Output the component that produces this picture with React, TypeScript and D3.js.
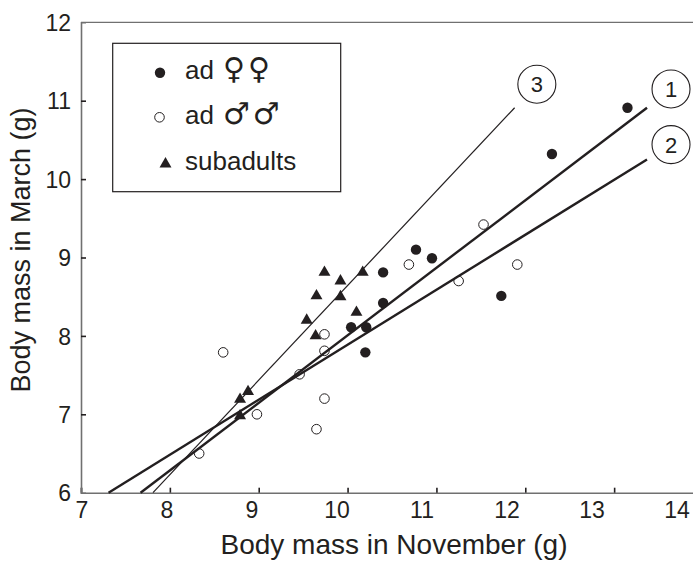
import { useEffect, useRef } from 'react';
import * as d3 from 'd3';

// adult females (filled circles)
const femaleNov = [13.15, 12.3, 10.77, 10.95, 11.73, 10.4, 10.4, 10.04, 10.21, 10.2];
const femaleMar = [10.91, 10.32, 9.1, 8.99, 8.51, 8.81, 8.42, 8.11, 8.11, 7.79];

// adult males (open circles)
const maleNov = [10.69, 11.53, 11.91, 11.25, 8.6, 9.74, 9.74, 9.46, 9.74, 8.98, 9.65, 8.33];
const maleMar = [8.91, 9.42, 8.91, 8.7, 7.79, 8.02, 7.81, 7.51, 7.2, 7.0, 6.81, 6.5];

// subadults (triangles)
const subNov = [9.74, 9.92, 10.17, 9.65, 9.92, 10.1, 9.54, 9.64, 8.88, 8.79, 8.79];
const subMar = [8.81, 8.7, 8.81, 8.51, 8.5, 8.3, 8.2, 8.0, 7.29, 7.19, 6.98];

// regression lines 1..3, ends in data units, plus circled label anchor
const lineIds = ['1', '2', '3'];
const lineX0 = [7.67, 7.31, 7.81];
const lineY0 = [6, 6, 6];
const lineX1 = [13.37, 13.37, 11.88];
const lineY1 = [10.91, 10.25, 10.91];
const labelX = [13.64, 13.64, 12.13];
const labelY = [11.15, 10.44, 11.21];

const xTicks = [7, 8, 9, 10, 11, 12, 13, 14];
const yTicks = [6, 7, 8, 9, 10, 11, 12];

const W = 693;
const H = 561;
const INK = '#231f20';
const AXIS = '#707070';
const FONT = '"Liberation Sans", Arial, Helvetica, sans-serif';

export default function App() {
  const svgRef = useRef<SVGSVGElement | null>(null);

  useEffect(() => {
    if (!svgRef.current) return;
    const svg = d3.select(svgRef.current);
    svg.selectAll('*').remove();

    const x = d3.scaleLinear().domain([7, 14]).range([81, 703]);
    const y = d3.scaleLinear().domain([6, 12]).range([492.7, 22.3]);
    // printed tick labels sit a little left of their ticks in the original
    const xLab = d3.scaleLinear().domain([7, 14]).range([82, 677]);

    // frame: top line
    svg
      .append('line')
      .attr('x1', x(7))
      .attr('x2', x(14))
      .attr('y1', y(12))
      .attr('y2', y(12))
      .attr('stroke', AXIS)
      .attr('stroke-width', 1.3);

    // x axis
    const gx = svg
      .append('g')
      .attr('transform', `translate(0,${y(6)})`)
      .call(d3.axisBottom(x).tickValues(xTicks).tickSize(-5).tickFormat(() => ''));
    gx.select('.domain').attr('stroke', AXIS).attr('stroke-width', 1.6);
    gx.selectAll('.tick line').attr('stroke', INK).attr('stroke-width', 1.6);

    svg
      .append('g')
      .selectAll('text')
      .data(xTicks)
      .join('text')
      .attr('x', (d) => xLab(d))
      .attr('y', 518)
      .attr('text-anchor', 'middle')
      .attr('font-family', FONT)
      .attr('font-size', 23)
      .attr('fill', INK)
      .text((d) => d);

    // y axis
    const gy = svg
      .append('g')
      .attr('transform', `translate(${x(7)},0)`)
      .call(
        d3
          .axisLeft(y)
          .tickValues(yTicks)
          .tickSize(-5)
          .tickPadding(10)
          .tickFormat((d) => String(d))
      );
    gy.select('.domain').attr('stroke', AXIS).attr('stroke-width', 1.6);
    gy.selectAll('.tick line').attr('stroke', INK).attr('stroke-width', 1.6);
    gy.selectAll('.tick text')
      .attr('font-family', FONT)
      .attr('font-size', 23)
      .attr('fill', INK)
      .attr('dy', '0.36em');
    gy.selectAll('.tick')
      .filter((d: any) => d === 6 || d === 12)
      .select('line')
      .remove();

    // axis titles
    svg
      .append('text')
      .attr('x', 394)
      .attr('y', 554)
      .attr('text-anchor', 'middle')
      .attr('font-family', FONT)
      .attr('font-size', 28)
      .attr('fill', INK)
      .text('Body mass in November (g)');

    svg
      .append('text')
      .attr('transform', 'translate(30,250) rotate(-90)')
      .attr('text-anchor', 'middle')
      .attr('font-family', FONT)
      .attr('font-size', 27)
      .attr('fill', INK)
      .text('Body mass in March (g)');

    // regression lines
    const lines = svg.append('g');
    lineIds.forEach((id, i) => {
      lines
        .append('line')
        .attr('x1', x(lineX0[i]))
        .attr('y1', y(lineY0[i]))
        .attr('x2', x(lineX1[i]))
        .attr('y2', y(lineY1[i]))
        .attr('stroke', INK)
        .attr('stroke-width', id === '3' ? 1.2 : 2.4);
      lines
        .append('circle')
        .attr('cx', x(labelX[i]))
        .attr('cy', y(labelY[i]))
        .attr('r', 19)
        .attr('fill', 'white')
        .attr('stroke', INK)
        .attr('stroke-width', 1.1);
      lines
        .append('text')
        .attr('x', x(labelX[i]))
        .attr('y', y(labelY[i]))
        .attr('dy', '0.36em')
        .attr('text-anchor', 'middle')
        .attr('font-family', FONT)
        .attr('font-size', 22)
        .attr('fill', INK)
        .text(id);
    });

    // points
    const tri = d3.symbol().type(d3.symbolTriangle).size(62);

    svg
      .append('g')
      .selectAll('path')
      .data(d3.range(subNov.length))
      .join('path')
      .attr('d', tri)
      .attr('transform', (i) => `translate(${x(subNov[i])},${y(subMar[i])})`)
      .attr('fill', INK);

    svg
      .append('g')
      .selectAll('circle')
      .data(d3.range(maleNov.length))
      .join('circle')
      .attr('cx', (i) => x(maleNov[i]))
      .attr('cy', (i) => y(maleMar[i]))
      .attr('r', 4.8)
      .attr('fill', 'none')
      .attr('stroke', INK)
      .attr('stroke-width', 1);

    svg
      .append('g')
      .selectAll('circle')
      .data(d3.range(femaleNov.length))
      .join('circle')
      .attr('cx', (i) => x(femaleNov[i]))
      .attr('cy', (i) => y(femaleMar[i]))
      .attr('r', 5.2)
      .attr('fill', INK);

    // legend
    const lg = svg.append('g');
    lg.append('rect')
      .attr('x', 112.7)
      .attr('y', 43.3)
      .attr('width', 228)
      .attr('height', 148.4)
      .attr('fill', 'white')
      .attr('stroke', INK)
      .attr('stroke-width', 1.2);
    lg.append('circle').attr('cx', 160).attr('cy', 72.7).attr('r', 5.2).attr('fill', INK);
    lg.append('circle')
      .attr('cx', 159.5)
      .attr('cy', 117.3)
      .attr('r', 4.8)
      .attr('fill', 'none')
      .attr('stroke', INK)
      .attr('stroke-width', 1);
    lg.append('path').attr('d', tri).attr('transform', 'translate(165.5,164)').attr('fill', INK);

    const legendText = (yy: number, label: string, sym: string) => {
      const t = lg
        .append('text')
        .attr('x', 185)
        .attr('y', yy)
        .attr('font-family', FONT)
        .attr('font-size', 26)
        .attr('fill', INK);
      t.append('tspan').text(label);
      if (sym) {
        t.append('tspan')
          .attr('font-family', '"DejaVu Sans", sans-serif')
          .attr('font-size', 30)
          .attr('dx', 9)
          .attr('letter-spacing', 3)
          .text(sym);
      }
    };
    legendText(79, 'ad', '\u2640\u2640');
    legendText(124, 'ad', '\u2642\u2642');
    legendText(170, 'subadults', '');
  }, []);

  return (
    <svg
      ref={svgRef}
      width={W}
      height={H}
      viewBox={`0 0 ${W} ${H}`}
      style={{ position: 'absolute', left: 0, top: 0, background: 'white' }}
    />
  );
}
